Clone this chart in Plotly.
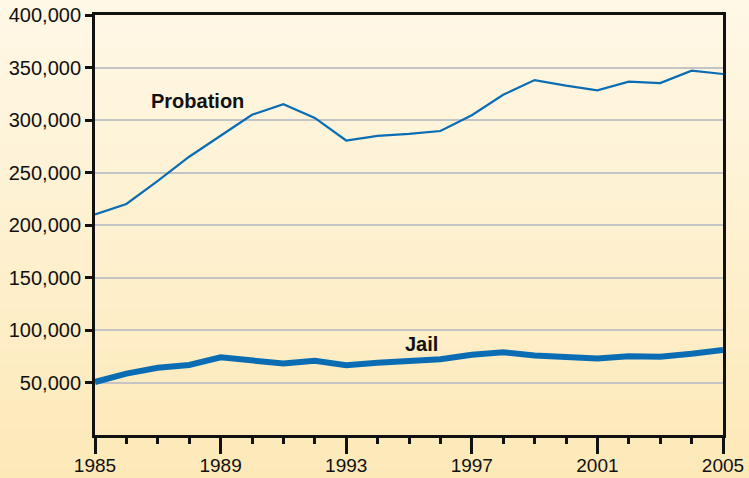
import plotly.graph_objects as go

years = list(range(1985, 2006))
probation = [210000, 220000, 242000, 265000, 285000, 305000, 315000, 302000, 280500, 284800,
             286700, 289500, 304500, 324000, 338000, 332700, 328300, 336500, 335200, 347000, 343800]
jail = [50500, 58500, 64000, 66700, 74000, 70500, 68000, 70800, 66500, 68900,
        71000, 72100, 76500, 78800, 75800, 74300, 72800, 74900, 74500, 77400, 81000]
y_ticks = [50000, 100000, 150000, 200000, 250000, 300000, 350000, 400000]
x_ticks = [1985, 1989, 1993, 1997, 2001, 2005]

W, H = 749, 478
ml, mr, mt, mb = 95, 26, 15, 43

fig = go.Figure()
line_color = "#0a6db4"
fig.add_trace(go.Scatter(x=years, y=probation, mode="lines",
                         line=dict(color=line_color, width=2.2), hoverinfo="skip"))
fig.add_trace(go.Scatter(x=years, y=jail, mode="lines",
                         line=dict(color=line_color, width=6), hoverinfo="skip"))

# background vertical gradient via stacked paper-referenced bands
n = 60
plot_h = H - mt - mb
y0_paper = -mb / plot_h
y1_paper = 1 + mt / plot_h
x0_paper = -ml / (W - ml - mr)
x1_paper = 1 + mr / (W - ml - mr)
top = (255, 248, 231)
bot = (253, 233, 184)
shapes = []
for i in range(n):
    t = i / (n - 1)
    c = tuple(round(top[k] + (bot[k] - top[k]) * t) for k in range(3))
    ya = y1_paper - (y1_paper - y0_paper) * i / n
    yb = y1_paper - (y1_paper - y0_paper) * (i + 1) / n
    shapes.append(dict(type="rect", xref="paper", yref="paper", x0=x0_paper, x1=x1_paper,
                       y0=yb - 0.002, y1=ya + 0.002, fillcolor="rgb(%d,%d,%d)" % c,
                       line=dict(width=0), layer="below"))

font = "Liberation Sans, Arial, Helvetica, sans-serif"
fig.update_layout(
    width=W, height=H,
    margin=dict(l=ml, r=mr, t=mt, b=mb, autoexpand=False),
    paper_bgcolor="rgb(254,241,210)",
    plot_bgcolor="rgba(0,0,0,0)",
    showlegend=False,
    shapes=shapes,
    font=dict(family=font, size=19, color="#111111"),
    xaxis=dict(range=[1985, 2005], tickvals=x_ticks, ticktext=[str(v) for v in x_ticks],
               ticks="outside", ticklen=16, tickwidth=3, tickcolor="#111111",
               minor=dict(dtick=1, tick0=1985, ticks="outside", ticklen=6, tickwidth=3,
                          tickcolor="#111111", showgrid=False),
               showline=True, linecolor="#111111", linewidth=3, mirror=True,
               showgrid=False, zeroline=False, tickfont=dict(size=19), automargin=False,
               ticklabelstandoff=-5),
    yaxis=dict(range=[0, 400000], tickvals=y_ticks, ticktext=[f"{v:,}" for v in y_ticks],
               ticks="outside", ticklen=7, tickwidth=3, tickcolor="#111111",
               showline=True, linecolor="#111111", linewidth=3, mirror=True,
               showgrid=True, gridcolor="#c4c4c4", gridwidth=2, zeroline=False,
               tickfont=dict(size=20), automargin=False),
    annotations=[
        dict(x=1988.25, y=318000, xref="x", yref="y", text="<b>Probation</b>", showarrow=False,
             font=dict(size=20, color="#111111")),
        dict(x=1995.4, y=86500, xref="x", yref="y", text="<b>Jail</b>", showarrow=False,
             font=dict(size=20, color="#111111")),
    ],
)
fig.write_html("out.html", config={"displayModeBar": False},
               post_script="document.body.style.margin='0';document.body.style.overflow='hidden';")
